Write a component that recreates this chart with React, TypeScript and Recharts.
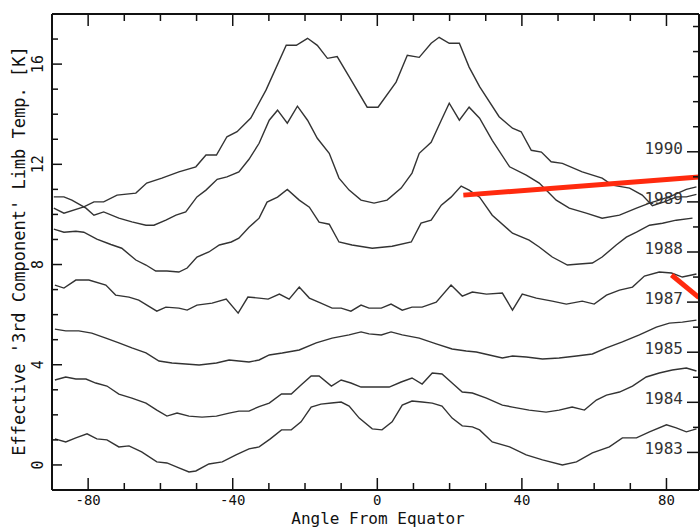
import { LineChart, Line, XAxis, YAxis, ReferenceLine } from 'recharts';

// [angle from equator, temperature K]
const y1990: [number, number][] = [
  [-89.5, 10.25], [-86.7, 10.05], [-81.2, 10.3], [-78.4, 10.5], [-75.7, 10.5], [-72.0, 10.77],
  [-66.8, 10.85], [-63.8, 11.25], [-59.6, 11.45], [-54.9, 11.7], [-50.2, 11.9], [-47.4, 12.37],
  [-44.5, 12.37], [-41.6, 13.1], [-38.8, 13.3], [-35.0, 13.85], [-30.8, 14.96], [-25.2, 16.75],
  [-22.4, 16.75], [-19.3, 17.03], [-16.6, 16.75], [-13.8, 16.23], [-11.1, 16.3], [-7.8, 15.5],
  [-2.8, 14.28], [0.2, 14.28], [5.2, 15.28], [8.3, 16.35], [11.6, 16.27], [14.9, 16.83],
  [17.1, 17.07], [19.9, 16.83], [22.7, 16.83], [25.4, 15.88], [28.3, 15.1], [33.7, 13.9],
  [37.4, 13.44], [39.8, 13.3], [42.6, 12.56], [45.4, 12.49], [48.1, 12.1], [51.2, 12.04],
  [56.7, 11.7], [62.2, 11.45], [65.0, 11.17], [69.8, 11.05], [73.3, 10.77], [76.1, 10.35],
  [79.4, 10.5], [82.7, 10.7], [85.5, 10.7], [88.3, 10.8],
];
const y1989: [number, number][] = [
  [-89.5, 10.7], [-86.7, 10.7], [-84.5, 10.57], [-80.6, 10.25], [-78.4, 9.97], [-75.7, 10.1],
  [-71.5, 9.85], [-67.9, 9.7], [-64.0, 9.57], [-61.8, 9.57], [-58.5, 9.77], [-55.7, 9.97],
  [-53.0, 10.1], [-49.9, 10.7], [-47.4, 10.97], [-44.3, 11.4], [-41.6, 11.5], [-38.3, 11.7],
  [-35.5, 12.2], [-32.7, 12.84], [-29.9, 13.76], [-27.6, 14.16], [-24.9, 13.64], [-22.1, 14.32],
  [-19.3, 13.76], [-16.6, 13.04], [-13.3, 12.44], [-10.6, 11.45], [-7.8, 10.97], [-4.5, 10.57],
  [-0.9, 10.45], [2.7, 10.57], [6.6, 11.05], [9.6, 11.65], [11.6, 12.44], [14.9, 12.88],
  [17.7, 13.76], [19.9, 14.44], [22.7, 13.76], [25.4, 14.28], [28.3, 13.84], [31.8, 12.96],
  [36.6, 11.9], [41.2, 11.57], [44.8, 11.25], [49.5, 10.57], [53.1, 10.25], [57.8, 10.05],
  [62.2, 9.85], [67.0, 9.97], [71.7, 10.25], [75.3, 10.45], [78.0, 10.57], [81.6, 10.75],
  [85.5, 11.0], [88.3, 11.1],
];
const y1988: [number, number][] = [
  [-89.5, 9.41], [-86.7, 9.29], [-83.4, 9.33], [-81.2, 9.29], [-77.6, 9.01], [-73.7, 8.8],
  [-70.7, 8.65], [-66.8, 8.18], [-64.0, 7.98], [-61.3, 7.74], [-58.2, 7.74], [-54.9, 7.7],
  [-52.6, 7.86], [-49.9, 8.3], [-46.6, 8.5], [-43.7, 8.78], [-40.4, 8.9], [-38.3, 9.05],
  [-35.5, 9.49], [-32.7, 9.85], [-30.5, 10.49], [-27.6, 10.69], [-24.9, 11.0], [-21.6, 10.57],
  [-18.8, 10.29], [-16.1, 9.69], [-13.3, 9.61], [-10.6, 8.9], [-7.0, 8.78], [-1.4, 8.65],
  [4.1, 8.73], [9.4, 8.9], [12.1, 9.65], [14.9, 9.77], [17.7, 10.37], [20.4, 10.69],
  [23.2, 11.13], [25.4, 10.97], [28.3, 10.69], [31.8, 9.97], [37.4, 9.25], [42.0, 8.97],
  [44.8, 8.7], [48.4, 8.3], [52.6, 7.98], [55.9, 8.02], [59.5, 8.06], [62.2, 8.3],
  [66.1, 8.78], [68.9, 9.09], [71.7, 9.29], [75.3, 9.57], [78.9, 9.65], [82.7, 9.77],
  [87.2, 9.85],
];
const y1987: [number, number][] = [
  [-89.2, 7.18], [-86.7, 7.06], [-83.4, 7.38], [-79.8, 7.38], [-75.1, 7.18], [-72.4, 6.78],
  [-68.7, 6.7], [-66.0, 6.58], [-61.0, 6.14], [-58.5, 6.3], [-54.9, 6.26], [-52.6, 6.18],
  [-49.9, 6.38], [-45.7, 6.46], [-41.8, 6.62], [-38.5, 6.06], [-35.8, 6.7], [-32.7, 6.66],
  [-30.2, 6.62], [-27.1, 6.82], [-24.4, 6.62], [-21.6, 7.1], [-18.8, 6.66], [-15.6, 6.46],
  [-12.5, 6.26], [-10.0, 6.26], [-7.3, 6.14], [-4.5, 6.38], [-2.3, 6.26], [1.1, 6.26],
  [3.8, 6.42], [6.9, 6.18], [9.6, 6.3], [12.4, 6.3], [16.3, 6.5], [20.4, 7.18],
  [23.5, 6.74], [26.3, 6.9], [30.2, 6.82], [34.6, 6.86], [37.4, 6.18], [40.1, 6.82],
  [44.0, 6.66], [48.4, 6.54], [52.3, 6.42], [56.7, 6.54], [60.0, 6.42], [63.4, 6.78],
  [67.0, 6.98], [70.6, 7.1], [73.9, 7.54], [78.0, 7.7], [81.4, 7.66], [84.4, 7.5],
  [88.3, 7.62],
];
const y1985: [number, number][] = [
  [-89.2, 5.42], [-86.2, 5.35], [-82.6, 5.35], [-79.0, 5.26], [-75.1, 5.06], [-71.5, 4.87],
  [-67.9, 4.67], [-64.0, 4.47], [-60.4, 4.15], [-56.8, 4.07], [-53.0, 4.03], [-49.3, 3.99],
  [-44.5, 4.07], [-41.0, 4.19], [-38.3, 4.15], [-35.5, 4.11], [-32.7, 4.19], [-29.9, 4.39],
  [-26.3, 4.47], [-21.6, 4.59], [-16.9, 4.87], [-12.5, 5.06], [-7.8, 5.19], [-4.5, 5.31],
  [-2.3, 5.23], [1.1, 5.19], [3.8, 5.31], [6.9, 5.19], [11.6, 5.06], [16.3, 4.83],
  [20.7, 4.63], [24.6, 4.55], [27.4, 4.51], [31.0, 4.39], [34.6, 4.27], [37.4, 4.35],
  [41.2, 4.31], [45.7, 4.23], [50.3, 4.27], [55.1, 4.35], [59.5, 4.43], [63.4, 4.67],
  [67.8, 4.91], [72.5, 5.19], [77.2, 5.5], [80.8, 5.66], [84.4, 5.7], [88.3, 5.78],
];
const y1984: [number, number][] = [
  [-89.2, 3.39], [-86.2, 3.51], [-83.4, 3.43], [-80.6, 3.43], [-77.9, 3.27], [-74.8, 3.15],
  [-71.5, 2.83], [-67.9, 2.67], [-64.0, 2.47], [-61.0, 2.19], [-58.2, 1.95], [-55.4, 2.07],
  [-52.1, 1.95], [-48.5, 1.91], [-44.5, 1.95], [-41.0, 2.07], [-38.3, 2.15], [-35.5, 2.15],
  [-32.7, 2.33], [-29.9, 2.47], [-26.5, 2.83], [-23.8, 2.83], [-21.1, 3.19], [-18.3, 3.55],
  [-16.1, 3.55], [-12.7, 3.15], [-10.0, 3.39], [-7.3, 3.27], [-4.5, 3.11], [-0.9, 3.11],
  [3.3, 3.11], [6.6, 3.31], [9.6, 3.47], [12.4, 3.23], [15.2, 3.67], [17.9, 3.63],
  [20.7, 3.27], [23.5, 2.91], [26.3, 2.87], [30.2, 2.67], [34.6, 2.39], [37.4, 2.31],
  [42.0, 2.19], [46.7, 2.11], [50.3, 2.19], [53.9, 2.31], [57.3, 2.19], [60.6, 2.59],
  [63.4, 2.79], [67.0, 2.91], [70.6, 3.15], [74.4, 3.51], [78.0, 3.67], [81.6, 3.79],
  [85.5, 3.87], [88.3, 3.75],
];
const y1983: [number, number][] = [
  [-89.2, 1.04], [-86.2, 0.92], [-83.4, 1.08], [-80.3, 1.24], [-77.6, 1.04], [-74.8, 1.0],
  [-71.5, 0.72], [-68.7, 0.76], [-65.2, 0.52], [-61.0, 0.12], [-58.2, 0.08], [-54.9, -0.12],
  [-52.1, -0.28], [-50.2, -0.24], [-46.6, 0.04], [-42.9, 0.12], [-39.1, 0.4], [-35.5, 0.64],
  [-32.7, 0.72], [-29.6, 1.04], [-26.5, 1.4], [-23.8, 1.4], [-21.1, 1.72], [-18.3, 2.31],
  [-15.6, 2.43], [-12.7, 2.47], [-10.0, 2.51], [-7.8, 2.35], [-5.0, 1.87], [-1.4, 1.44],
  [1.3, 1.4], [4.1, 1.72], [6.9, 2.39], [9.6, 2.55], [12.4, 2.51], [15.2, 2.47],
  [17.9, 2.35], [20.7, 1.87], [23.5, 1.56], [26.3, 1.52], [28.3, 1.4], [31.8, 0.92],
  [36.6, 0.72], [41.2, 0.4], [45.7, 0.2], [51.2, 0.0], [55.1, 0.12], [59.5, 0.48],
  [64.2, 0.72], [67.8, 1.08], [71.7, 1.08], [75.3, 1.32], [80.0, 1.6], [82.7, 1.48],
  [85.5, 1.32], [88.3, 1.44],
];

const allSeries = [y1990, y1989, y1988, y1987, y1985, y1984, y1983];
const seriesNames = ['1990', '1989', '1988', '1987', '1985', '1984', '1983'];

const yearLabels = ['1983', '1984', '1985', '1987', '1988', '1989', '1990'];
const yearLabelAt = [0.5, 2.5, 4.5, 6.5, 8.5, 10.5, 12.5];
const angleTicks = [-80, -70, -60, -50, -40, -30, -20, -10, 0, 10, 20, 30, 40, 50, 60, 70, 80];
const tempTicks = [0, 1, 2, 3, 4, 5, 6, 7, 8, 9, 10, 11, 12, 13, 14, 15, 16, 17];
const rightTicks = [0.5, 1.5, 2.5, 3.5, 4.5, 5.5, 6.5, 7.5, 8.5, 9.5, 10.5, 11.5, 12.5, 13.5, 14.5, 15.5, 16.5, 17.5];

// hand-drawn red marks on the scan, as [angle, temp] end points
const redMarks: [number, number][][] = [
  [[23.8, 10.77], [89, 11.49]],
  [[81.4, 7.58], [89, 6.68]],
];

const MONO = '"DejaVu Sans Mono", "Liberation Mono", monospace';
const INK = '#111';

function LeftTick(props: any) {
  const { x, y, payload } = props;
  const major = payload.value % 4 === 0;
  const tx = x - 9;
  return (
    <g>
      <line x1={x} y1={y} x2={x + (major ? 10 : 6)} y2={y} stroke={INK} strokeWidth={1.5} />
      {major && (
        <text x={tx} y={y} transform={`rotate(-90 ${tx} ${y})`} textAnchor="middle"
          fontFamily={MONO} fontSize={15} fill={INK}>{payload.value}</text>
      )}
    </g>
  );
}

function BottomTick(props: any) {
  const { x, y, payload } = props;
  const major = payload.value % 40 === 0;
  return (
    <g>
      <line x1={x} y1={y} x2={x} y2={y - (major ? 12 : 7)} stroke={INK} strokeWidth={1.5} />
      {major && (
        <text x={x} y={y + 14.5} textAnchor="middle" fontFamily={MONO} fontSize={14} fill={INK}>
          {payload.value}
        </text>
      )}
    </g>
  );
}

function TopTick(props: any) {
  const { x, y, payload } = props;
  const major = payload.value % 40 === 0;
  return <line x1={x} y1={y} x2={x} y2={y + (major ? 12 : 7)} stroke={INK} strokeWidth={1.5} />;
}

function RightTick(props: any) {
  const { x, y, payload } = props;
  const i = yearLabelAt.indexOf(payload.value);
  return (
    <g>
      <line x1={x} y1={y} x2={x - (i >= 0 ? 12 : 6)} y2={y} stroke={INK} strokeWidth={1.5} />
      {i >= 0 && (
        <text x={x - 16} y={y + 2} textAnchor="end" fontFamily={MONO} fontSize={16} fill="#333">
          {yearLabels[i]}
        </text>
      )}
    </g>
  );
}

export default function App() {
  const lines = allSeries.map((s) => s.map(([a, t]) => ({ a, t })));

  return (
    <div style={{ position: 'absolute', left: 0, top: 0, width: 700, height: 527, background: '#fff' }}>
      <LineChart width={700} height={527} margin={{ top: 13, right: 0, bottom: 36, left: 51 }}>
        <XAxis xAxisId={0} dataKey="a" type="number" domain={[-90, 89]} allowDataOverflow
          ticks={angleTicks} interval={0} height={1} tickSize={0} tickMargin={0}
          tick={<BottomTick />} axisLine={{ stroke: INK, strokeWidth: 2 }} />
        <XAxis xAxisId="top" orientation="top" dataKey="a" type="number" domain={[-90, 89]}
          allowDataOverflow ticks={angleTicks} interval={0} height={1} tickSize={0} tickMargin={0}
          tick={<TopTick />} axisLine={{ stroke: INK, strokeWidth: 2 }} />
        <YAxis yAxisId={0} type="number" domain={[-1, 18]} allowDataOverflow ticks={tempTicks}
          interval={0} width={1} tickSize={0} tickMargin={0} tick={<LeftTick />}
          axisLine={{ stroke: INK, strokeWidth: 2 }} />
        <YAxis yAxisId="right" orientation="right" type="number" domain={[-1, 18]} allowDataOverflow
          ticks={rightTicks} interval={0} width={1} tickSize={0} tickMargin={0} tick={<RightTick />}
          axisLine={{ stroke: INK, strokeWidth: 2 }} />
        {lines.map((d, i) => (
          <Line key={seriesNames[i]} data={d} dataKey="t" name={seriesNames[i]} xAxisId={0} yAxisId={0}
            type="linear" stroke="#333" strokeWidth={1.4} dot={false} isAnimationActive={false} />
        ))}
        {redMarks.map((m, i) => (
          <ReferenceLine key={i} xAxisId={0} yAxisId={0} ifOverflow="visible"
            segment={[{ x: m[0][0], y: m[0][1] }, { x: m[1][0], y: m[1][1] }]}
            stroke="#ff2a0e" strokeWidth={5} />
        ))}
      </LineChart>
      <svg width={700} height={527} style={{ position: 'absolute', left: 0, top: 0, pointerEvents: 'none' }}>
        <text x={378} y={523.5} textAnchor="middle" fontFamily={MONO} fontSize={16} fill={INK}>
          Angle From Equator
        </text>
        <text x={25} y={251} transform="rotate(-90 25 251)" textAnchor="middle" fontFamily={MONO}
          fontSize={17} fill={INK}>
          Effective '3rd Component' Limb Temp. [K]
        </text>
      </svg>
    </div>
  );
}
